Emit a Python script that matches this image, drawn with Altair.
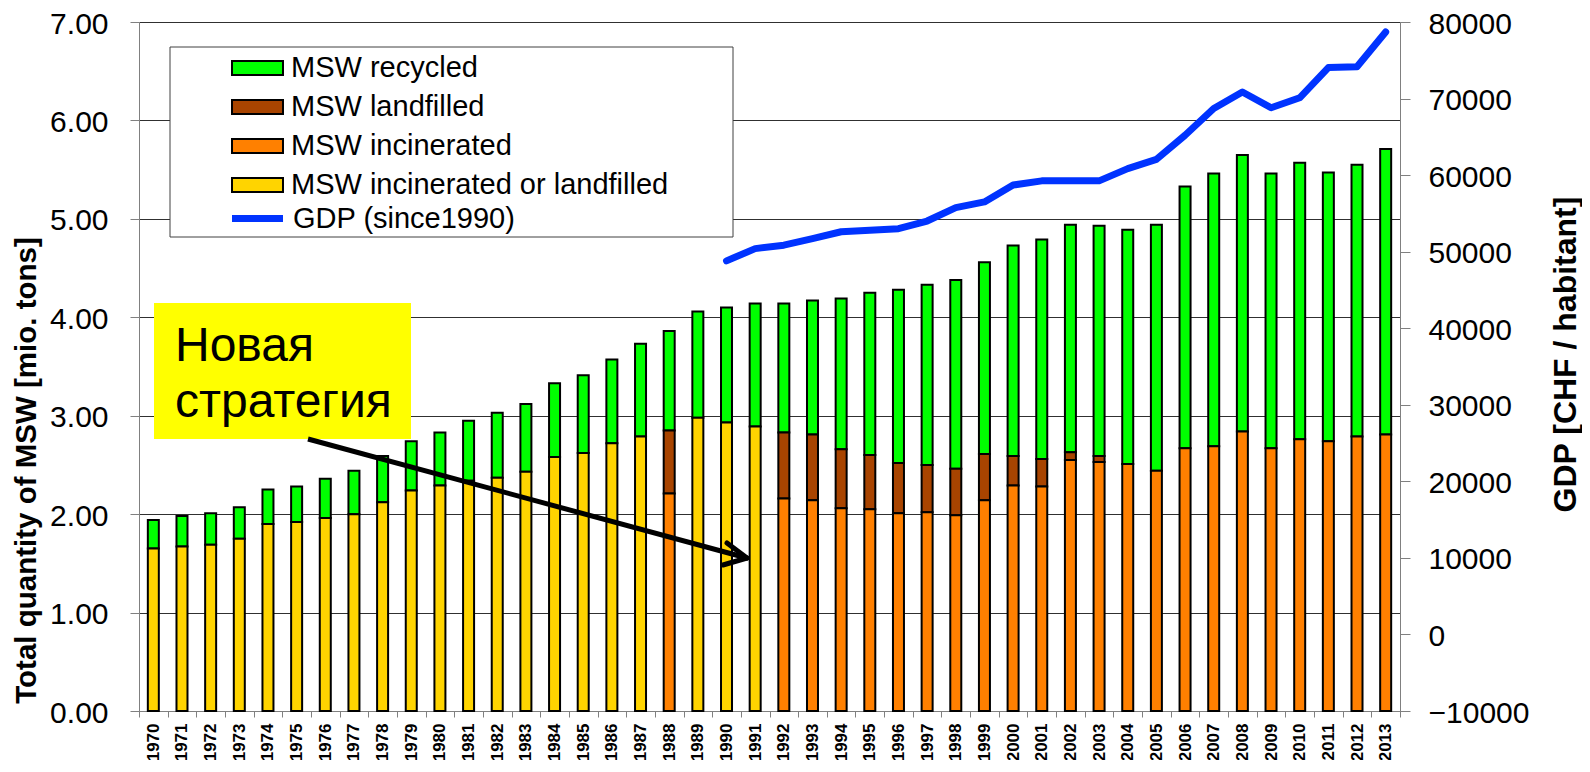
import altair as alt
import pandas as pd

years = list(range(1970, 2014))

# segment values in mio. tons
incin_or_landf = [1.65, 1.67, 1.69, 1.75, 1.90, 1.92, 1.96, 2.00, 2.12, 2.24, 2.29,
                  2.34, 2.37, 2.43, 2.58, 2.62, 2.72, 2.79, 0.00, 2.98, 2.93, 2.89] + [0.0] * 22
incinerated = [0.0] * 18 + [2.21, 0.0, 0.0, 0.0] + [
    2.16, 2.14, 2.06, 2.05, 2.01, 2.02, 1.99, 2.14, 2.29, 2.28, 2.55,
    2.53, 2.51, 2.44, 2.67, 2.69, 2.84, 2.67, 2.76, 2.74, 2.79, 2.81]
landfilled = [0.0] * 18 + [0.64, 0.0, 0.0, 0.0] + [
    0.67, 0.67, 0.60, 0.55, 0.51, 0.48, 0.47, 0.47, 0.30, 0.28, 0.08, 0.06] + [0.0] * 10
recycled = [0.29, 0.31, 0.32, 0.32, 0.35, 0.36, 0.40, 0.44, 0.47, 0.50, 0.54,
            0.61, 0.66, 0.69, 0.75, 0.79, 0.85, 0.94, 1.01, 1.08, 1.17, 1.25,
            1.31, 1.36, 1.53, 1.65, 1.76, 1.83, 1.92, 1.95, 2.14, 2.23, 2.31,
            2.34, 2.38, 2.50, 2.66, 2.77, 2.81, 2.79, 2.81, 2.73, 2.76, 2.90]

gdp_years = list(range(1990, 2014))
gdp = [48800, 50400, 50850, 51700, 52600, 52800, 53000, 54000, 55750, 56500,
       58700, 59250, 59250, 59250, 60850, 62050, 65200, 68700, 70850, 68800,
       70100, 74050, 74150, 78700]

cat_names = ["MSW recycled", "MSW landfilled", "MSW incinerated", "MSW incinerated or landfilled"]
cat_colors = ["#00FF00", "#A84400", "#FF8000", "#FFD400"]
stack_rank = [3, 2, 1, 0]
series_list = [recycled, landfilled, incinerated, incin_or_landf]

left_ticks = [0, 1, 2, 3, 4, 5, 6, 7]
right_ticks = list(range(-10000, 80001, 10000))

annot_lines = ["Новая", "стратегия"]

FONT = "Liberation Sans"

rows = []
for i, yr in enumerate(years):
    for name, rank, ser in zip(cat_names, stack_rank, series_list):
        if ser[i] > 0:
            rows.append({"year": str(yr), "type": name, "value": ser[i], "rank": rank})
bars_df = pd.DataFrame(rows)
gdp_df = pd.DataFrame({"year": [str(y) for y in gdp_years], "gdp": gdp,
                       "series": ["GDP (since1990)"] * len(gdp_years)})

x_enc = alt.X("year:N", sort="ascending",
              scale=alt.Scale(paddingInner=0, paddingOuter=0),
              axis=alt.Axis(title=None, labelAngle=270, labelFont=FONT, labelFontSize=17,
                            labelFontWeight="bold", labelColor="black", labelPadding=6,
                            tickBand="extent", tickSize=6, tickColor="#808080",
                            domainColor="#808080", labelOverlap=False))

one = alt.Data(values=[{"k": 1}])

legend_box = alt.Chart(one).mark_rect(fill="white", stroke="#404040", strokeWidth=1).encode(
    x=alt.value(31), x2=alt.value(594), y=alt.value(25), y2=alt.value(215))

bars = alt.Chart(bars_df).mark_bar(size=11, stroke="black", strokeWidth=2).encode(
    x=x_enc,
    y=alt.Y("value:Q", stack="zero",
            scale=alt.Scale(domain=[0, 7], nice=False),
            axis=alt.Axis(values=left_ticks, format=".2f",
                          title="Total quantity of MSW [mio. tons]",
                          titleFont=FONT, titleFontSize=29.5, titleFontWeight="bold",
                          titleColor="black", titleAngle=270, titleAlign="center",
                          titleBaseline="middle", titleX=-113, titleY=448,
                          labelFont=FONT, labelFontSize=30, labelColor="black",
                          labelPadding=22, labelOffset=2, tickSize=9, tickColor="#808080",
                          domainColor="#808080", grid=True, gridColor="#303030",
                          gridWidth=1)),
    fill=alt.Fill("type:N", scale=alt.Scale(domain=cat_names, range=cat_colors),
                  legend=alt.Legend(title=None, orient="none", legendX=104, legendY=31.5,
                                    symbolType="M-2,-0.55H2V0.55H-2Z", symbolSize=650,
                                    symbolStrokeColor="black", symbolStrokeWidth=2,
                                    symbolOpacity=1, labelFont=FONT, labelFontSize=29,
                                    labelColor="black", labelOffset=19, rowPadding=9,
                                    padding=0, labelLimit=600)),
    order=alt.Order("rank:Q", sort="ascending"),
)

line = alt.Chart(gdp_df).mark_line(strokeWidth=7, strokeCap="round", strokeJoin="round").encode(
    x=x_enc,
    y=alt.Y("gdp:Q", scale=alt.Scale(domain=[-10000, 80000], nice=False),
            axis=alt.Axis(orient="right", values=right_ticks, format="d",
                          title="GDP [CHF / habitant]",
                          titleFont=FONT, titleFontSize=32, titleFontWeight="bold",
                          titleColor="black", titleAngle=270, titleAlign="center",
                          titleBaseline="middle", titleX=165, titleY=332,
                          labelFont=FONT, labelFontSize=30, labelColor="black",
                          labelPadding=18, labelOffset=2, tickSize=10, tickColor="#808080",
                          domainColor="#808080", grid=False)),
    stroke=alt.Stroke("series:N", scale=alt.Scale(range=["#0033FF"]),
                      legend=alt.Legend(title=None, orient="none", legendX=102, legendY=180,
                                        symbolType="M-2,0H2", symbolSize=650,
                                        symbolStrokeWidth=7, labelFont=FONT,
                                        labelFontSize=29, labelColor="black",
                                        labelOffset=19, padding=0, labelLimit=600)),
)

yellow_box = alt.Chart(one).mark_rect(fill="#FFFF00").encode(
    x=alt.value(15), x2=alt.value(272), y=alt.value(281), y2=alt.value(417))

text1 = alt.Chart(one).mark_text(font=FONT, fontSize=48, align="left", baseline="alphabetic",
                                 color="black").encode(
    x=alt.value(36), y=alt.value(339), text=alt.value(annot_lines[0]))
text2 = alt.Chart(one).mark_text(font=FONT, fontSize=48, align="left", baseline="alphabetic",
                                 color="black").encode(
    x=alt.value(36), y=alt.value(395), text=alt.value(annot_lines[1]))

shaft = alt.Chart(one).mark_rule(color="black", strokeWidth=5).encode(
    x=alt.value(169), y=alt.value(417), x2=alt.value(606), y2=alt.value(535.5))
arm1 = alt.Chart(one).mark_rule(color="black", strokeWidth=5, strokeCap="round").encode(
    x=alt.value(608), y=alt.value(536), x2=alt.value(588), y2=alt.value(521))
arm2 = alt.Chart(one).mark_rule(color="black", strokeWidth=5, strokeCap="round").encode(
    x=alt.value(608), y=alt.value(536), x2=alt.value(584), y2=alt.value(543))

chart = alt.layer(
    legend_box, bars, line, yellow_box, text1, text2, shaft, arm1, arm2
).resolve_scale(
    y="independent"
).properties(
    width=1261, height=689,
    autosize=alt.AutoSizeParams(type="none"),
    padding={"left": 131, "top": 14, "right": 182, "bottom": 49},
).configure_view(stroke=None).configure(font=FONT)

chart.save("out.html", embed_options={"renderer": "svg", "actions": False})
